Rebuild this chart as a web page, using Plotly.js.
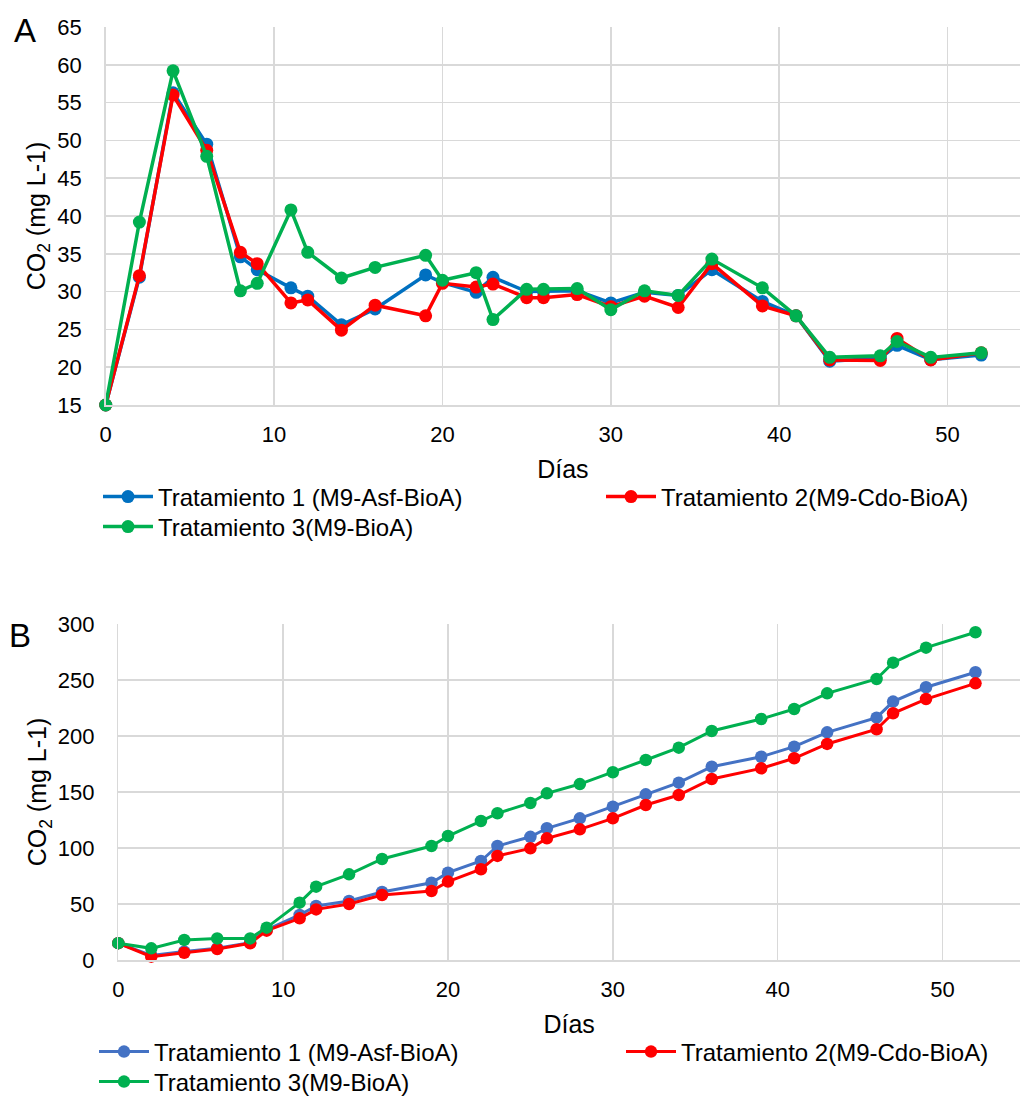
<!DOCTYPE html>
<html>
<head>
<meta charset="utf-8">
<script src="https://cdn.plot.ly/plotly-3.0.1.min.js"></script>
<style>html,body{margin:0;padding:0;background:#fff;}#chart{width:1021px;height:1097px;}</style>
</head>
<body>
<div id="chart"></div>
<script>
// Days of measurement
const days = [0, 2, 4, 6, 8, 9, 11, 12, 14, 16, 19, 20, 22, 23, 25, 26, 28, 30, 32, 34, 36, 39, 41, 43, 46, 47, 49, 52];

// Series names
const name1 = "Tratamiento 1 (M9-Asf-BioA)";
const name2 = "Tratamiento 2(M9-Cdo-BioA)";
const name3 = "Tratamiento 3(M9-BioA)";

// Panel A: CO2 (mg L-1) per day
const a_t1 = [15, 31.9, 56.3, 49.5, 34.6, 32.9, 30.5, 29.4, 25.6, 27.7, 32.2, 31.2, 29.9, 31.9, 30.0, 30.0, 30.1, 28.5, 29.9, 29.5, 32.9, 28.7, 26.8, 20.8, 21.2, 22.9, 21.0, 21.6];
const a_t2 = [15, 32.1, 56.0, 48.7, 35.2, 33.7, 28.5, 28.9, 24.9, 28.2, 26.8, 31.1, 30.6, 31.0, 29.2, 29.2, 29.6, 28.0, 29.4, 27.9, 33.7, 28.1, 26.8, 20.95, 20.9, 23.8, 20.95, 21.9];
const a_t3 = [15, 39.2, 59.2, 47.9, 30.1, 31.1, 40.8, 35.2, 31.8, 33.2, 34.8, 31.5, 32.5, 26.3, 30.3, 30.3, 30.4, 27.6, 30.1, 29.5, 34.3, 30.5, 26.8, 21.3, 21.5, 23.4, 21.3, 21.9];

// Panel B: cumulative CO2 (mg L-1) per day
const b_t1 = [15, 4, 7.5, 10.5, 15.5, 27, 40.2, 48.2, 52.7, 60.7, 69.0, 78, 88.4, 101.8, 110, 117.6, 126.5, 136.9, 147.9, 158.3, 172.6, 181.5, 190.5, 203.3, 216.4, 230.7, 243.5, 256.9];
const b_t2 = [15, 3, 6.5, 9.8, 14.9, 26.2, 37.2, 45.2, 50, 58, 61.6, 70, 81, 92.9, 99.7, 108.6, 116.7, 126.5, 138.4, 147.3, 161.6, 171.1, 180.1, 192.9, 206, 220.3, 233, 247];
const b_t3 = [15, 10.4, 17.9, 19.3, 19.3, 28.9, 51.2, 65.5, 76.5, 90.2, 101.8, 110.7, 124.1, 131, 140.2, 148.8, 157.1, 167.6, 178.6, 189.6, 204.5, 215.2, 224.1, 238.1, 250.9, 265.5, 278.9, 292.6];

// Tick values
const aYticks = [15, 20, 25, 30, 35, 40, 45, 50, 55, 60, 65];
const bYticks = [0, 50, 100, 150, 200, 250, 300];
const xTicks = [0, 10, 20, 30, 40, 50];

const FONT = "Liberation Sans, Arial, sans-serif";
const W = 1021, H = 1097;
const fx = p => p / W;
const fy = p => 1 - p / H;

function tr(x, y, name, color, xa, ya, leg, lw, ms) {
  return {
    x: x, y: y, name: name, type: "scatter", mode: "lines+markers",
    xaxis: xa, yaxis: ya, legend: leg, cliponaxis: false,
    line: {color: color, width: lw},
    marker: {color: color, size: ms}
  };
}

const data = [
  tr(days, a_t1, name1, "#0070C0", "x", "y", "legend", 3.5, 13),
  tr(days, a_t2, name2, "#FF0000", "x", "y", "legend2", 3.5, 13),
  tr(days, a_t3, name3, "#00B050", "x", "y", "legend3", 3.5, 13),
  tr(days, b_t1, name1, "#4472C4", "x2", "y2", "legend4", 3, 12.5),
  tr(days, b_t2, name2, "#FF0000", "x2", "y2", "legend5", 3, 12.5),
  tr(days, b_t3, name3, "#00B050", "x2", "y2", "legend6", 3, 12.5)
];

const grid = "#D9D9D9";
function xax(domain, anchor, range) {
  return {
    domain: domain, anchor: anchor, range: range,
    tickvals: xTicks, ticktext: xTicks.map(String),
    showgrid: true, gridcolor: grid, gridwidth: 1.5,
    showline: true, linecolor: grid, linewidth: 1.5,
    zeroline: false, ticks: "", ticklabelstandoff: 9,
    tickfont: {family: FONT, size: 22, color: "#000"},
    title: {text: "Días", font: {family: FONT, size: 25, color: "#000"}, standoff: 14},
    automargin: false
  };
}
function yax(domain, anchor, range, ticks) {
  return {
    domain: domain, anchor: anchor, range: range,
    tickvals: ticks, ticktext: ticks.map(String),
    showgrid: true, gridcolor: grid, gridwidth: 1.5,
    showline: true, linecolor: grid, linewidth: 1.5,
    zeroline: false, ticks: "", ticklabelstandoff: 18,
    tickfont: {family: FONT, size: 22, color: "#000"},
    title: {text: "CO<sub>2</sub> (mg L-1)", font: {family: FONT, size: 25, color: "#000"}},
    automargin: false
  };
}
function leg(xp, yp) {
  return {
    orientation: "h", x: fx(xp), y: fy(yp), xanchor: "left", yanchor: "middle",
    itemwidth: 50, font: {family: FONT, size: 24, color: "#000"},
    bgcolor: "rgba(0,0,0,0)", borderwidth: 0
  };
}

const layout = {
  width: W, height: H,
  margin: {l: 0, r: 0, t: 0, b: 0, autoexpand: false},
  paper_bgcolor: "#fff", plot_bgcolor: "#fff",
  font: {family: FONT, color: "#000"},
  xaxis: xax([fx(105.7), fx(1020)], "y", [0, 54.3]),
  yaxis: yax([fy(405), fy(27)], "x", [15, 65], aYticks),
  xaxis2: xax([fx(118.3), fx(1020)], "y2", [0, 54.7]),
  yaxis2: yax([fy(960), fy(624)], "x2", [0, 300], bYticks),
  legend: leg(98, 497),
  legend2: leg(601, 497),
  legend3: leg(98, 527),
  legend4: leg(94, 1052),
  legend5: leg(621, 1052),
  legend6: leg(94, 1082),
  showlegend: true,
  annotations: [
    {text: "A", xref: "paper", yref: "paper", x: fx(25), y: fy(30), showarrow: false,
     font: {family: FONT, size: 33, color: "#000"}, xanchor: "center", yanchor: "middle"},
    {text: "B", xref: "paper", yref: "paper", x: fx(20), y: fy(635), showarrow: false,
     font: {family: FONT, size: 33, color: "#000"}, xanchor: "center", yanchor: "middle"}
  ]
};

Plotly.newPlot("chart", data, layout, {staticPlot: true, displayModeBar: false});
</script>
</body>
</html>
